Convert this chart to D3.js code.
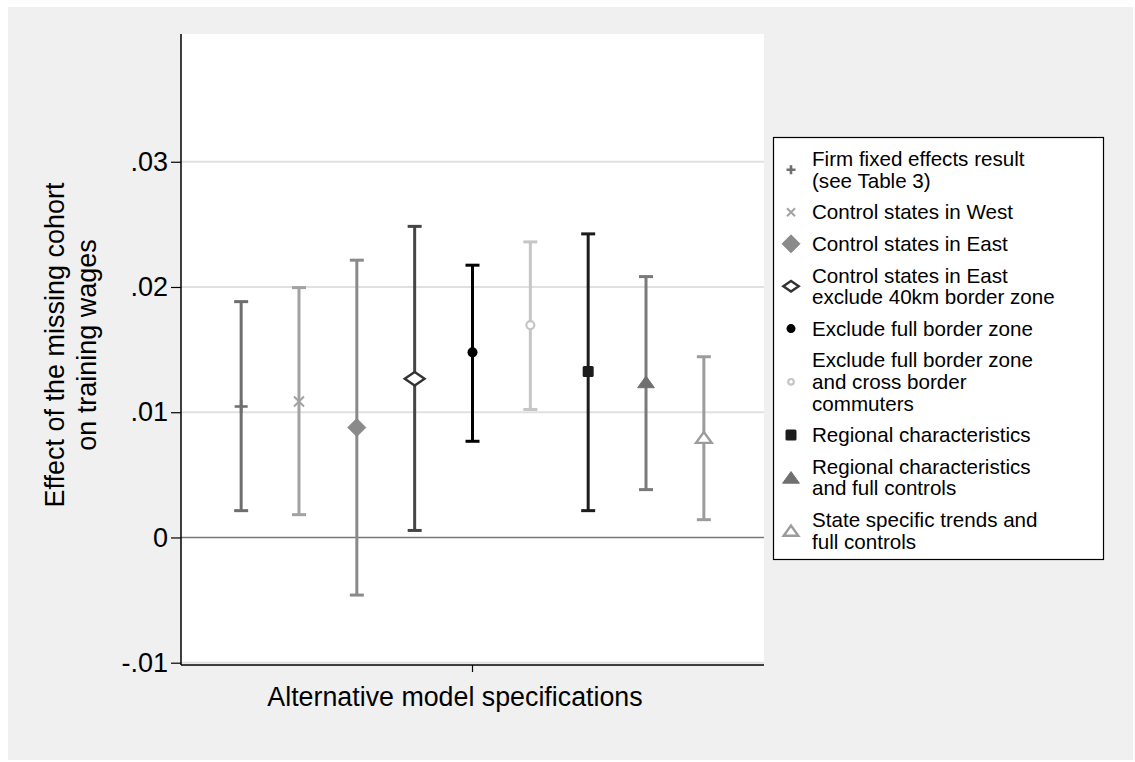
<!DOCTYPE html>
<html>
<head>
<meta charset="utf-8">
<script src="https://cdn.jsdelivr.net/npm/d3@7"></script>
<style>
  html, body { margin: 0; padding: 0; background: #ffffff; }
  svg { display: block; }
  text { font-family: "Liberation Sans", Arial, sans-serif; fill: #000; }
</style>
</head>
<body>
<svg id="chart" width="1135" height="762"></svg>
<script>
// ---------- data ----------
const specLabels = [
  ["Firm fixed effects result", "(see Table 3)"],
  ["Control states in West"],
  ["Control states in East"],
  ["Control states in East", "exclude 40km border zone"],
  ["Exclude full border zone"],
  ["Exclude full border zone", "and cross border", "commuters"],
  ["Regional characteristics"],
  ["Regional characteristics", "and full controls"],
  ["State specific trends and", "full controls"]
];
const estimates = [0.01046, 0.01086, 0.00878, 0.01267, 0.01478, 0.01696, 0.01326, 0.01242, 0.00799];
const ciLow     = [0.00214, 0.00182, -0.00460, 0.00056, 0.00768, 0.01022, 0.00214, 0.00382, 0.00142];
const ciHigh    = [0.01883, 0.01995, 0.02214, 0.02484, 0.02174, 0.02360, 0.02424, 0.02083, 0.01443];
const yTicks = [-0.01, 0, 0.01, 0.02, 0.03];
const yTitle = ["Effect of the missing cohort", "on training wages"];
const xTitle = "Alternative model specifications";

// ---------- styles ----------
const lineColors = ["#6e6e6e", "#a2a2a2", "#8a8a8a", "#454545", "#000000", "#c6c6c6", "#1c1c1c", "#7a7a7a", "#9c9c9c"];
const markers = [
  {type: "plus",  color: "#6e6e6e"},
  {type: "cross", color: "#a2a2a2"},
  {type: "diamond", color: "#8a8a8a", fill: true},
  {type: "diamond", color: "#333333", fill: false},
  {type: "circle", color: "#000000", fill: true},
  {type: "circle", color: "#c6c6c6", fill: false},
  {type: "square", color: "#1c1c1c", fill: true},
  {type: "triangle", color: "#707070", fill: true},
  {type: "triangle", color: "#9c9c9c", fill: false}
];

const svg = d3.select("#chart");

// outer background
svg.append("rect").attr("x", 0).attr("y", 0).attr("width", 1135).attr("height", 762).attr("fill", "#ffffff");
svg.append("rect").attr("x", 8).attr("y", 7).attr("width", 1125).attr("height", 753).attr("fill", "#f0f0f0");

const plot = {left: 181, right: 764, top: 34, bottom: 665};
svg.append("rect").attr("x", plot.left).attr("y", plot.top)
  .attr("width", plot.right - plot.left).attr("height", plot.bottom - plot.top).attr("fill", "#ffffff");

const x = d3.scaleLinear().domain([-0.04, 10.04]).range([plot.left, plot.right]);
const y = d3.scaleLinear().domain([-0.01, 0.0402]).range([662.7, 34]);

// gridlines
svg.append("g").selectAll("line").data(yTicks.filter(d => d !== 0)).join("line")
  .attr("x1", plot.left).attr("x2", plot.right)
  .attr("y1", d => y(d)).attr("y2", d => y(d))
  .attr("stroke", "#e0e0e0").attr("stroke-width", 2);

// zero line
svg.append("line").attr("x1", plot.left).attr("x2", plot.right)
  .attr("y1", y(0)).attr("y2", y(0)).attr("stroke", "#787878").attr("stroke-width", 1.6);

// y axis
const fmt = d => d === 0 ? "0" : d3.format(".2f")(d).replace("\u2212", "-").replace("0.", ".");
const yAxis = svg.append("g").attr("transform", `translate(${plot.left},0)`)
  .call(d3.axisLeft(y).tickValues(yTicks).tickFormat(fmt).tickSize(10).tickPadding(3));
yAxis.select(".domain").remove();
yAxis.selectAll(".tick line").attr("stroke", "#000").attr("stroke-width", 1.2);
yAxis.selectAll(".tick text").attr("font-size", 27).attr("font-family", "Liberation Sans, Arial, sans-serif").attr("fill", "#000");
svg.append("line").attr("x1", plot.left).attr("x2", plot.left).attr("y1", plot.top).attr("y2", plot.bottom)
  .attr("stroke", "#000").attr("stroke-width", 1.5);

// x axis
svg.append("line").attr("x1", plot.left).attr("x2", plot.right).attr("y1", plot.bottom).attr("y2", plot.bottom)
  .attr("stroke", "#000").attr("stroke-width", 1.5);
svg.append("line").attr("x1", x(5)).attr("x2", x(5)).attr("y1", plot.bottom).attr("y2", plot.bottom + 7)
  .attr("stroke", "#000").attr("stroke-width", 1.2);
svg.append("text").attr("x", 455).attr("y", 706).attr("text-anchor", "middle").attr("font-size", 26.8).text(xTitle);

// y title
const yt = svg.append("text").attr("transform", "translate(55,345) rotate(-90)").attr("text-anchor", "middle").attr("font-size", 27);
yTitle.forEach((t, i) => yt.append("tspan").attr("x", 0).attr("dy", i === 0 ? "0.35em" : 32).text(t));

// marker drawing
function drawMarker(g, m, cx, cy, s) {
  const c = m.color;
  if (m.type === "plus") {
    g.append("path").attr("d", `M${cx - s},${cy}H${cx + s}M${cx},${cy - s}V${cy + s}`)
      .attr("stroke", c).attr("stroke-width", 2.6).attr("fill", "none");
  } else if (m.type === "cross") {
    g.append("path").attr("d", `M${cx - s},${cy - s}L${cx + s},${cy + s}M${cx - s},${cy + s}L${cx + s},${cy - s}`)
      .attr("stroke", c).attr("stroke-width", 2).attr("fill", "none");
  } else if (m.type === "diamond") {
    const w = m.fill ? s : s * 1.1, h = m.fill ? s : s * 0.75;
    g.append("path").attr("d", `M${cx - w},${cy}L${cx},${cy - h}L${cx + w},${cy}L${cx},${cy + h}Z`)
      .attr("fill", m.fill ? c : "#fff").attr("stroke", c).attr("stroke-width", m.fill ? 1 : 2.4);
  } else if (m.type === "circle") {
    g.append("circle").attr("cx", cx).attr("cy", cy).attr("r", m.fill ? s : s - 1)
      .attr("fill", m.fill ? c : "#fff").attr("stroke", c).attr("stroke-width", m.fill ? 0 : 2.2);
  } else if (m.type === "square") {
    g.append("rect").attr("x", cx - s).attr("y", cy - s).attr("width", 2 * s).attr("height", 2 * s)
      .attr("rx", 1.5).attr("fill", c);
  } else if (m.type === "triangle") {
    const w = s * 1.05, h = s * 1.45;
    g.append("path").attr("d", `M${cx - w},${cy + h / 2}L${cx},${cy - h / 2}L${cx + w},${cy + h / 2}Z`)
      .attr("fill", m.fill ? c : "#fff").attr("stroke", c).attr("stroke-width", m.fill ? 1 : 2.4)
      .attr("stroke-linejoin", "miter");
  }
}

const markerSize = [6.5, 5, 9, 9, 5, 5, 5.5, 8, 7.5];

// error bars
const bars = svg.append("g");
estimates.forEach((est, i) => {
  const cx = x(i + 1), col = lineColors[i];
  const g = bars.append("g");
  g.append("line").attr("x1", cx).attr("x2", cx).attr("y1", y(ciLow[i])).attr("y2", y(ciHigh[i]))
    .attr("stroke", col).attr("stroke-width", 3);
  [ciLow[i], ciHigh[i]].forEach(v => {
    g.append("line").attr("x1", cx - 7).attr("x2", cx + 7).attr("y1", y(v)).attr("y2", y(v))
      .attr("stroke", col).attr("stroke-width", 3);
  });
  drawMarker(g, markers[i], cx, y(est), markerSize[i]);
});

// legend
const lg = svg.append("g");
lg.append("rect").attr("x", 773.5).attr("y", 137.5).attr("width", 330).attr("height", 422)
  .attr("fill", "#fff").attr("stroke", "#000").attr("stroke-width", 1.2);
const legendMarkerSize = [4.5, 4, 9, 7, 4.5, 3.8, 5.5, 8, 7];
let ly = 159;
const lineH = 21.6, gap = 31.6;
specLabels.forEach((lines, i) => {
  const n = lines.length;
  const centerY = ly + (n - 1) * lineH / 2;
  drawMarker(lg, markers[i], 791, centerY, legendMarkerSize[i]);
  lines.forEach((t, k) => {
    lg.append("text").attr("x", 812).attr("y", ly + k * lineH).attr("dy", "0.35em")
      .attr("font-size", 20.6).text(t);
  });
  ly += (n - 1) * lineH + gap;
});
</script>
</body>
</html>
